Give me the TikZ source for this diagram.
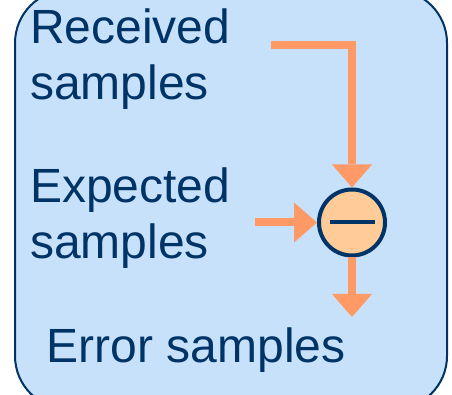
\documentclass[tikz,border=0pt]{standalone}
\usepackage{fontspec}
\setmainfont{Liberation Sans}
\usetikzlibrary{arrows.meta}
\definecolor{boxfill}{HTML}{C7E1FA}
\definecolor{dblue}{HTML}{003366}
\definecolor{flowc}{HTML}{FF9966}
\definecolor{peach}{HTML}{FFCC99}
\tikzset{
  frame/.style={draw=dblue, line width=2pt, fill=boxfill, rounded corners=53pt, rectangle, inner sep=0pt},
  lbl/.style={anchor=base west, inner sep=0pt, align=left, text=dblue, font=\fontsize{48}{56}\selectfont},
  flow/.style={draw=flowc, line width=8pt, -{Triangle[length=23pt,width=40pt,line width=0pt]}, line join=miter},
  subnode/.style={circle, draw=dblue, line width=4pt, fill=peach, minimum size=66pt, inner sep=0pt}
}
\begin{document}
\begin{tikzpicture}[x=1pt,y=1pt]
\useasboundingbox (0,0) rectangle (452,395);
\clip (0,0) rectangle (452,395);
\node[frame, minimum width=432pt, minimum height=419pt] (box) at (231,195.5) {};
\node[lbl] (rec) at (30,295) {Received\\samples};
\node[lbl] (exp) at (30,136) {Expected\\samples};
\node[lbl] (err) at (46.5,32) {Error samples};
\node[subnode] (sub) at (352,172.5) {\color{dblue}\rule{45pt}{4pt}};
\coordinate (rin) at (271,350);
\coordinate (ein) at (255,172.5);
\coordinate (eout) at (352,78);
\draw[flow] (rin) -| (sub.north);
\draw[flow] (ein) -- (sub.west);
\draw[flow] (sub.south) -- (eout);
\end{tikzpicture}
\end{document}
